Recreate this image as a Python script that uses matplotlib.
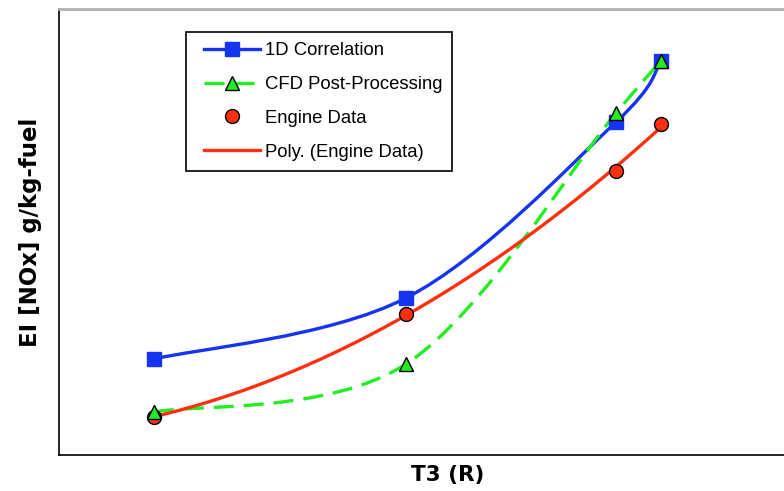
import numpy as np
import matplotlib.pyplot as plt
from matplotlib.path import Path
from matplotlib.patches import PathPatch
from matplotlib.lines import Line2D
from matplotlib.legend_handler import HandlerLine2D

plt.rcParams['font.family'] = ['Liberation Sans', 'DejaVu Sans']

# T3 (arbitrary units, no tick labels shown)
t3 = [1.54, 4.06, 6.16, 6.61]
# EI NOx values (arbitrary units)
corr_1d = [0.96, 1.57, 3.33, 3.94]
cfd_post = [0.43, 0.91, 3.42, 3.94]
engine = [0.38, 1.41, 2.84, 3.31]

blue = '#1434F2'
green = '#22EE22'
red = '#FF3010'


def smooth_path(xs, ys):
    """Excel-like smoothed line: cubic Bezier segments (Catmull-Rom control points)."""
    pts = np.column_stack([xs, ys])
    n = len(pts)
    verts = [pts[0]]
    codes = [Path.MOVETO]
    for i in range(n - 1):
        p_prev = pts[i - 1] if i > 0 else pts[i]
        p_next2 = pts[i + 2] if i + 2 < n else pts[i + 1]
        c1 = pts[i] + (pts[i + 1] - p_prev) / 6
        c2 = pts[i + 1] - (p_next2 - pts[i]) / 6
        verts += [c1, c2, pts[i + 1]]
        codes += [Path.CURVE4] * 3
    return Path(verts, codes)


fig = plt.figure(figsize=(7.84, 4.91), dpi=100)
ax = fig.add_axes([59 / 784, 36 / 491, 778 / 784, 446 / 491])

ax.add_patch(PathPatch(smooth_path(t3, corr_1d), fill=False, edgecolor=blue,
                       lw=2.4, capstyle='round', zorder=3))
ax.add_patch(PathPatch(smooth_path(t3, cfd_post), fill=False, edgecolor=green,
                       lw=2.4, linestyle=(0, (6, 3)), zorder=3))

# polynomial trendline of the engine data
coef = np.polyfit(t3, engine, 2)
xx = np.linspace(t3[0], t3[-1], 200)
ax.plot(xx, np.polyval(coef, xx), color=red, lw=2.4, zorder=3)

ax.plot(t3, corr_1d, ls='none', marker='s', ms=10, mfc=blue, mec=blue, zorder=4)
ax.plot(t3, cfd_post, ls='none', marker='^', ms=10, mfc=green, mec='black', mew=1, zorder=5)
ax.plot(t3, engine, ls='none', marker='o', ms=10, mfc=red, mec='black', mew=1, zorder=4)

ax.set_xlim(0.59, 8.37)
ax.set_ylim(0, 4.46)
ax.set_xticks([])
ax.set_yticks([])
ax.spines['top'].set_color('#b0b0b0')
ax.spines['top'].set_linewidth(2)
ax.spines['left'].set_linewidth(1.2)
ax.spines['bottom'].set_linewidth(1.2)

ax.set_xlabel('T3 (R)', fontsize=15.5, fontweight='bold', family='DejaVu Sans', labelpad=7)
ax.set_ylabel('EI [NOx] g/kg-fuel', fontsize=16.5, fontweight='bold', family='DejaVu Sans',
              labelpad=12)

handles = [
    Line2D([], [], color=blue, lw=2.4, marker='s', ms=10, mfc=blue, mec=blue),
    Line2D([], [], color=green, lw=2.4, ls=(0, (6, 3)), marker='^', ms=10, mfc=green, mec='black'),
    Line2D([], [], ls='none', marker='o', ms=10, mfc=red, mec='black'),
    Line2D([], [], color=red, lw=2.4),
]
labels = ['1D Correlation', 'CFD Post-Processing', 'Engine Data', 'Poly. (Engine Data)']
hmap = {h: HandlerLine2D(xpad=0.45) for h in handles}
leg = ax.legend(handles, labels, handler_map=hmap, loc='upper left',
                bbox_to_anchor=(186 / 784, 1 - 32 / 491),
                bbox_transform=fig.transFigure, borderaxespad=0, fontsize=13.3,
                handlelength=3.45, handletextpad=0.25, labelspacing=0.91,
                borderpad=0.55, fancybox=False, framealpha=1, edgecolor='black')
leg.get_frame().set_linewidth(1.2)

fig.savefig('out.png', dpi=100)
